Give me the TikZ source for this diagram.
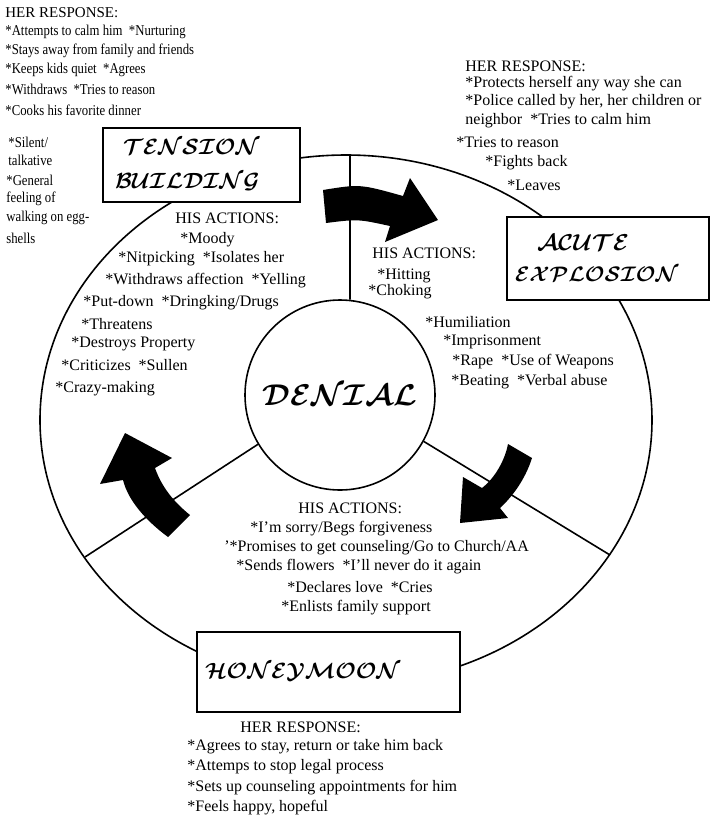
\documentclass[tikz,border=0pt]{standalone}
\usepackage{fix-cm}
\usepackage{fontspec}
\setmainfont{Liberation Serif}
\newfontfamily\narrowserif{Liberation Serif}[FakeStretch=0.85]
\tikzstyle{ring} = [line width=0.8pt, draw=black]
\tikzstyle{phase} = [rectangle, draw=black, line width=0.8pt, fill=white, align=left, font=\boldmath\fontsize{11}{17}\selectfont]
\tikzstyle{hub} = [circle, draw=black, line width=0.8pt, fill=white, minimum size=95pt, inner sep=0pt, font=\boldmath\fontsize{15}{20}\selectfont]
\tikzstyle{cyclearrow} = [fill=black]
\tikzstyle{txt} = [anchor=west, inner sep=0pt, font=\fontsize{8}{9}\selectfont]
\tikzstyle{narrowtxt} = [anchor=west, inner sep=0pt, font=\narrowserif\fontsize{7.5}{9}\selectfont]

\begin{document}
\begin{tikzpicture}[x=0.5pt, y=-0.5pt]
    \useasboundingbox (0,0) rectangle (718,821);

    % outer ring and centre
    \draw[ring] (346,420) ellipse [x radius=153pt, y radius=132.5pt];
    \node (denial) [hub] at (340,395) {\raisebox{-2pt}{$\mathcal{DENIAL}$}};

    \coordinate (topcut) at (350,155);
    \coordinate (leftcut) at (85,557);
    \coordinate (rightcut) at (610,555);
    \draw[ring] (denial.84) -- (topcut);
    \draw[ring] (denial.211) -- (leftcut);
    \draw[ring] (denial.-29) -- (rightcut);

    % phase boxes
    \node (tension) [phase, minimum width=98.5pt, minimum height=37pt, inner xsep=6pt, text width=86.5pt] at (201.5,165) {\hspace*{4pt}$\mathcal{TENSION}$\\$\mathcal{BUILDING}$};
    \node (acute) [phase, minimum width=101pt, minimum height=41.5pt, inner xsep=4pt, text width=93pt, font=\boldmath\fontsize{11.5}{15.5}\selectfont] at (608,258.5) {\hspace*{11pt}$\mathcal{ACUTE}$\\{\fontsize{10.5}{15.5}\selectfont$\mathcal{EXPLOSION}$}};
    \node (honey) [phase, minimum width=131.5pt, minimum height=40pt, inner xsep=4pt, text width=123.5pt] at (328.5,672) {$\mathcal{HONEYMOON}$};

    % block arrows
    \fill[cyclearrow] (323,190) .. controls (360,184) .. (403,196) -- (410,178) -- (438,220) -- (385,242) -- (390,226) .. controls (358,219) .. (326,223) -- cycle;
    \fill[cyclearrow] (508,444) .. controls (505,460) and (495,478) .. (482,488) -- (463,477) -- (460,523) -- (508,518) -- (500,508) .. controls (512,497) and (525,480) .. (532,458) -- cycle;
    \fill[cyclearrow] (168,537) .. controls (145,520) and (128,500) .. (123,480) -- (100,484) -- (125,433) -- (172,458) -- (155,468) .. controls (162,488) and (175,503) .. (190,515) -- cycle;

    % her response, tension building
    \node (tl0) [txt, font=\fontsize{7.5}{9}\selectfont] at (5,13) {HER RESPONSE:};
    \node (tl1) [narrowtxt] at (5,32) {*Attempts to calm him~ *Nurturing};
    \node (tl2) [narrowtxt] at (5,51) {*Stays away from family and friends};
    \node (tl3) [narrowtxt] at (5,70) {*Keeps kids quiet~ *Agrees};
    \node (tl4) [narrowtxt] at (5,89) {*Withdraws~ *Tries to reason};
    \node (tl5) [narrowtxt] at (5,110) {*Cooks his favorite dinner};
    \node (tl6) [narrowtxt] at (8,142) {*Silent/};
    \node (tl7) [narrowtxt] at (8,160) {talkative};
    \node (tl8) [narrowtxt] at (6,180) {*General};
    \node (tl9) [narrowtxt] at (6,199) {feeling of};
    \node (tl10) [narrowtxt] at (6,218) {walking on egg-};
    \node (tl11) [narrowtxt] at (6,238) {shells};

    % his actions, tension building
    \node (ta0) [txt] at (175,218) {HIS ACTIONS:};
    \node (ta1) [txt] at (180,240) {*Moody};
    \node (ta2) [txt] at (118,259) {*Nitpicking~ *Isolates her};
    \node (ta3) [txt] at (105,281) {*Withdraws affection~ *Yelling};
    \node (ta4) [txt] at (83,303) {*Put-down~ *Dringking/Drugs};
    \node (ta5) [txt] at (81,324) {*Threatens};
    \node (ta6) [txt] at (71,344) {*Destroys Property};
    \node (ta7) [txt] at (61,365) {*Criticizes~ *Sullen};
    \node (ta8) [txt] at (55,389) {*Crazy-making};

    % her response, acute explosion
    \node (tr0) [txt] at (465,66) {HER RESPONSE:};
    \node (tr1) [txt] at (465,84) {*Protects herself any way she can};
    \node (tr2) [txt] at (465,102) {*Police called by her, her children or};
    \node (tr3) [txt] at (465,121) {neighbor~ *Tries to calm him};
    \node (tr4) [txt] at (456,142) {*Tries to reason};
    \node (tr5) [txt] at (485,163) {*Fights back};
    \node (tr6) [txt] at (507,185) {*Leaves};

    % his actions, acute explosion
    \node (aa0) [txt] at (372,253) {HIS ACTIONS:};
    \node (aa1) [txt] at (377,276) {*Hitting};
    \node (aa2) [txt] at (368,292) {*Choking};
    \node (aa3) [txt] at (425,322) {*Humiliation};
    \node (aa4) [txt] at (443,342) {*Imprisonment};
    \node (aa5) [txt] at (452,362) {*Rape~ *Use of Weapons};
    \node (aa6) [txt] at (451,382) {*Beating~ *Verbal abuse};

    % his actions, honeymoon
    \node (ha0) [txt] at (298,508) {HIS ACTIONS:};
    \node (ha1) [txt] at (250,529) {*I'm sorry/Begs forgiveness};
    \node (ha2) [txt] at (224,548) {'*Promises to get counseling/Go to Church/AA};
    \node (ha3) [txt] at (236,567) {*Sends flowers~ *I'll never do it again};
    \node (ha4) [txt] at (287,587) {*Declares love~ *Cries};
    \node (ha5) [txt] at (281,608) {*Enlists family support};

    % her response, honeymoon
    \node (hr0) [txt] at (240,727) {HER RESPONSE:};
    \node (hr1) [txt] at (187,747) {*Agrees to stay, return or take him back};
    \node (hr2) [txt] at (187,767) {*Attemps to stop legal process};
    \node (hr3) [txt] at (187,788) {*Sets up counseling appointments for him};
    \node (hr4) [txt] at (187,808) {*Feels happy, hopeful};

\end{tikzpicture}
\end{document}
